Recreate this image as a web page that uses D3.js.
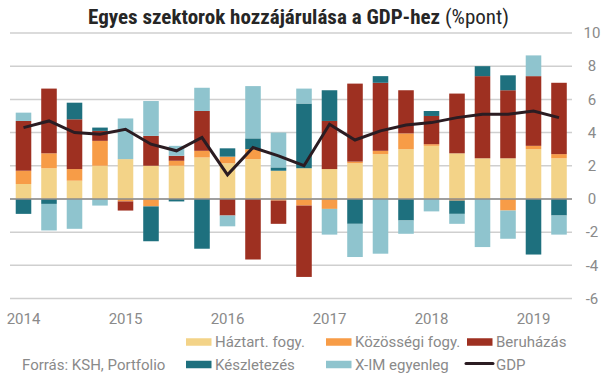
<!DOCTYPE html>
<html>
<head>
<meta charset="utf-8">
<script src="https://cdn.jsdelivr.net/npm/d3@7"></script>
<style>
  body { margin: 0; background: #fff; }
  text { font-family: Roboto, "Noto Sans", sans-serif; }
  text.title { font-family: "Roboto Condensed", "Liberation Sans Narrow", Roboto, sans-serif; }
</style>
</head>
<body>
<div id="chart-area"></div>
<script>
// data (%pont)
var quarters = ["2014Q1","2014Q2","2014Q3","2014Q4","2015Q1","2015Q2","2015Q3","2015Q4",
                "2016Q1","2016Q2","2016Q3","2016Q4","2017Q1","2017Q2","2017Q3","2017Q4",
                "2018Q1","2018Q2","2018Q3","2018Q4","2019Q1","2019Q2"]
var haztart   = [0.9, 1.85, 1.1, 2.0, 2.4, 2.0, 2.0, 2.5, 2.15, 2.4, 1.7, 1.85, 1.8, 2.15, 2.7, 3.0, 3.2, 2.75, 2.45, 2.45, 3.0, 2.45]
var kozossegi = [0.8, 0.9, 0.7, 1.5, -0.15, -0.45, 0.3, 0.4, 0.4, 0.6, -0.1, -0.4, -0.6, 0.1, 0.2, 0.95, 0.1, -0.1, 0, -0.7, 0.2, 0.25]
var beruhazas = [3.0, 3.9, 3.0, 0.6, -0.55, 1.8, 0.3, 2.4, -1.0, -3.65, -1.4, -4.3, 2.9, 4.7, 4.1, 2.6, 1.7, 3.6, 4.95, 4.1, 4.2, 4.3]
var keszlet   = [-0.9, -0.3, 1.0, 0.2, 0, -2.1, -0.15, -3.0, 0.5, 0.65, 0.2, 3.9, 1.85, -1.5, 0.4, -1.3, 0.3, -0.8, 0.6, 0.9, -3.35, -1.0]
var xim       = [0.5, -1.6, -1.8, -0.4, 2.45, 2.1, 0.6, 1.4, -0.65, 3.15, 2.1, 0.9, -1.55, -2.0, -3.3, -0.8, -0.75, -0.6, -2.9, -1.7, 1.25, -1.15]
var gdp       = [4.3, 4.7, 4.0, 3.9, 4.2, 3.3, 2.9, 3.7, 1.45, 3.1, 2.6, 2.0, 4.5, 3.55, 4.1, 4.45, 4.6, 4.9, 5.1, 5.1, 5.3, 4.9]
var yTicks = [-6, -4, -2, 0, 2, 4, 6, 8, 10]
var yearLabels = ["2014", "2015", "2016", "2017", "2018", "2019"]

var seriesNames = ["Háztart. fogy.", "Közösségi fogy.", "Beruházás", "Készletezés", "X-IM egyenleg"]
var seriesVals = [haztart, kozossegi, beruhazas, keszlet, xim]
var colors = ["#f3d388", "#f79c47", "#9e3021", "#1e707e", "#8fc4ce"]

var width = 605, height = 378

var svg = d3.select("#chart-area")
    .append("svg")
        .attr("width", width)
        .attr("height", height)

// table for stacking
var rows = quarters.map(function(q, i) {
    var r = { q: q }
    seriesNames.forEach(function(s, j) { r[s] = seriesVals[j][i] })
    return r
})

var x = d3.scaleBand()
    .domain(quarters)
    .range([10.75, 571.75])
    .paddingInner(0.39)
    .paddingOuter(0.195)

var y = d3.scaleLinear()
    .domain([-6, 10])
    .range([298.5, 33])

// grid
svg.append("g")
    .selectAll("line")
    .data(yTicks)
    .enter().append("line")
        .attr("x1", 10)
        .attr("x2", 572)
        .attr("y1", function(d) { return y(d) })
        .attr("y2", function(d) { return y(d) })
        .attr("stroke", "#cfcfcf")
        .attr("stroke-width", 1.5)

// Y labels (right)
svg.append("g")
    .selectAll("text")
    .data(yTicks)
    .enter().append("text")
        .attr("x", 592)
        .attr("y", function(d) { return y(d) })
        .attr("dy", "0.35em")
        .attr("text-anchor", "middle")
        .attr("font-size", "15px")
        .attr("fill", "#8a8a8a")
        .text(function(d) { return d })

// stacked bars
var stack = d3.stack()
    .keys(seriesNames)
    .offset(d3.stackOffsetDiverging)
var layers = stack(rows)

svg.append("g")
    .selectAll("g")
    .data(layers)
    .enter().append("g")
        .attr("fill", function(d, i) { return colors[i] })
    .selectAll("rect")
    .data(function(d) { return d })
    .enter().append("rect")
        .attr("x", function(d) { return x(d.data.q) })
        .attr("width", x.bandwidth())
        .attr("y", function(d) { return y(Math.max(d[0], d[1])) })
        .attr("height", function(d) { return Math.abs(y(d[0]) - y(d[1])) })

// zero line
svg.append("line")
    .attr("x1", 10)
    .attr("x2", 572)
    .attr("y1", y(0))
    .attr("y2", y(0))
    .attr("stroke", "#8c8c8c")
    .attr("stroke-width", 1.5)

// GDP line
var line = d3.line()
    .x(function(d, i) { return x(quarters[i]) + x.bandwidth() / 2 })
    .y(function(d) { return y(d) })

svg.append("path")
    .datum(gdp)
    .attr("d", line)
    .attr("fill", "none")
    .attr("stroke", "#2b1c22")
    .attr("stroke-width", 3)
    .attr("stroke-linejoin", "miter")

// X labels at Q1
svg.append("g")
    .selectAll("text")
    .data(yearLabels)
    .enter().append("text")
        .attr("x", function(d) { return x(d + "Q1") + x.bandwidth() / 2 })
        .attr("y", 324)
        .attr("text-anchor", "middle")
        .attr("font-size", "15px")
        .attr("fill", "#8a8a8a")
        .text(function(d) { return d })

// title
var title = svg.append("text")
    .attr("class", "title")
    .attr("x", 88)
    .attr("y", 23.5)
    .attr("font-size", "20px")
    .attr("fill", "#262626")
    .attr("textLength", 421)
    .attr("lengthAdjust", "spacingAndGlyphs")
title.append("tspan")
    .attr("font-weight", "bold")
    .text("Egyes szektorok hozzájárulása a GDP-hez")
title.append("tspan")
    .text(" (%pont)")

// legend
var legendPos = [[186, 342], [326, 342], [467, 342], [186, 364.5], [326, 364.5]]
var legend = svg.append("g")
seriesNames.forEach(function(s, i) {
    legend.append("rect")
        .attr("x", legendPos[i][0])
        .attr("y", legendPos[i][1] - 3.75)
        .attr("width", 25.5)
        .attr("height", 7.5)
        .attr("fill", colors[i])
    legend.append("text")
        .attr("x", legendPos[i][0] + 29)
        .attr("y", legendPos[i][1])
        .attr("dy", "0.35em")
        .attr("font-size", "15px")
        .attr("fill", "#8a8a8a")
        .text(s)
})
legend.append("line")
    .attr("x1", 466)
    .attr("x2", 493)
    .attr("y1", 363.5)
    .attr("y2", 363.5)
    .attr("stroke", "#2b1c22")
    .attr("stroke-width", 3)
    .attr("stroke-linecap", "round")
legend.append("text")
    .attr("x", 496)
    .attr("y", 364.5)
    .attr("dy", "0.35em")
    .attr("font-size", "15px")
    .attr("fill", "#8a8a8a")
    .text("GDP")

// source
svg.append("text")
    .attr("x", 22)
    .attr("y", 365)
    .attr("dy", "0.35em")
    .attr("font-size", "15px")
    .attr("fill", "#8a8a8a")
    .text("Forrás: KSH, Portfolio")
</script>
</body>
</html>
